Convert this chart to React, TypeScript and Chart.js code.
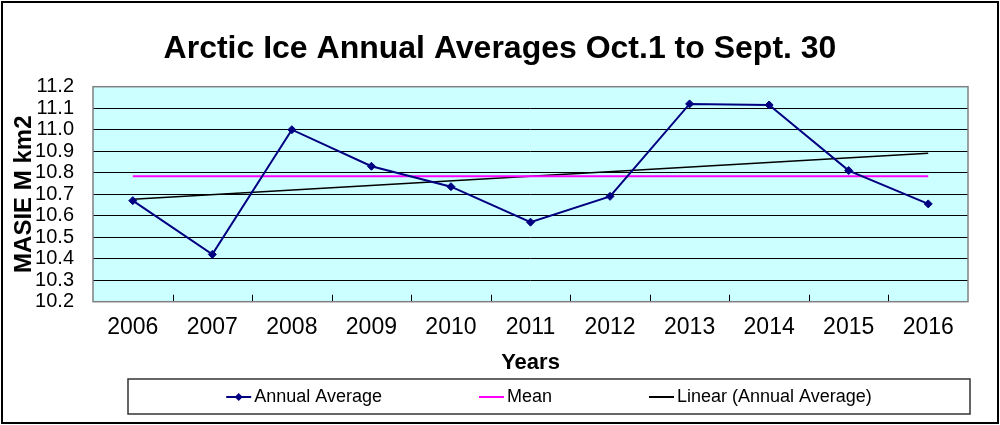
import React, { useEffect, useRef } from "react";
import { Chart, registerables } from "chart.js";

Chart.register(...registerables);

const YEARS = ["2006", "2007", "2008", "2009", "2010", "2011", "2012", "2013", "2014", "2015", "2016"];
const ANNUAL_AVERAGE = [10.67, 10.42, 11.0, 10.83, 10.735, 10.57, 10.69, 11.12, 11.115, 10.81, 10.655];
const MEAN_LEVEL = 10.783;
const TREND_START_END = [10.676, 10.891];
const Y_MIN = 10.2;
const Y_MAX = 11.2;
const Y_STEP = 0.1;

const TITLE = "Arctic Ice Annual Averages Oct.1 to Sept. 30";
const Y_TITLE = "MASIE M km2";
const X_TITLE = "Years";
const LABELS = ["Annual Average", "Mean", "Linear (Annual Average)"];

const FONT = "'Liberation Sans', Arial, Helvetica, sans-serif";

const decorPlugin = {
  id: "decor",
  beforeDraw(chart: any) {
    const { ctx, chartArea: a } = chart;
    ctx.save();
    ctx.fillStyle = "#CCFFFF";
    ctx.fillRect(a.left, a.top, a.right - a.left, a.bottom - a.top);
    ctx.restore();
  },
  afterDraw(chart: any) {
    const { ctx, chartArea: a, width, height } = chart;
    const xs = chart.scales.x;
    ctx.save();
    // category boundary tick marks (inward)
    ctx.strokeStyle = "#000";
    ctx.lineWidth = 1;
    for (let i = 0; i < YEARS.length - 1; i++) {
      const x = Math.round((xs.getPixelForValue(i) + xs.getPixelForValue(i + 1)) / 2) + 0.5;
      ctx.beginPath();
      ctx.moveTo(x, a.bottom);
      ctx.lineTo(x, a.bottom - 7);
      ctx.stroke();
    }
    // plot frame
    ctx.strokeStyle = "#808080";
    ctx.lineWidth = 1.5;
    ctx.strokeRect(a.left, a.top, a.right - a.left, a.bottom - a.top);

    // legend box
    const lx = 128, ly = 379, lw = 842, lh = 35;
    ctx.strokeStyle = "#333";
    ctx.lineWidth = 1.5;
    ctx.strokeRect(lx, ly, lw, lh);

    ctx.font = `18px ${FONT}`;
    ctx.textBaseline = "middle";
    ctx.textAlign = "left";
    const keyLen = 25, keyGap = 3, itemGap = 97;
    const ds = chart.data.datasets;
    const widths = ds.map((d: any) => keyLen + keyGap + ctx.measureText(d.label).width);
    const total = widths.reduce((s: number, w: number) => s + w, 0) + itemGap * (ds.length - 1);
    let x = lx + lw / 2 - total / 2;
    const cy = ly + lh / 2 + 0.5;
    ds.forEach((d: any, i: number) => {
      ctx.strokeStyle = d.borderColor;
      ctx.lineWidth = 2;
      ctx.beginPath();
      ctx.moveTo(x, cy);
      ctx.lineTo(x + keyLen, cy);
      ctx.stroke();
      if (d.pointRadius > 0) {
        const mx = x + keyLen / 2, r = 4;
        ctx.fillStyle = d.borderColor;
        ctx.beginPath();
        ctx.moveTo(mx, cy - r);
        ctx.lineTo(mx + r, cy);
        ctx.lineTo(mx, cy + r);
        ctx.lineTo(mx - r, cy);
        ctx.closePath();
        ctx.fill();
      }
      ctx.fillStyle = "#000";
      ctx.fillText(d.label, x + keyLen + keyGap, cy);
      x += widths[i] + itemGap;
    });

    // outer border
    ctx.strokeStyle = "#000";
    ctx.lineWidth = 2;
    ctx.strokeRect(2, 2, width - 4, height - 4);
    ctx.restore();
  },
};

export default function App() {
  const ref = useRef<HTMLCanvasElement | null>(null);

  useEffect(() => {
    if (!ref.current) return;
    const trend = YEARS.map((_, i) =>
      i === 0 ? TREND_START_END[0] : i === YEARS.length - 1 ? TREND_START_END[1] : null
    );
    const chart = new Chart(ref.current, {
      type: "line",
      data: {
        labels: YEARS,
        datasets: [
          {
            label: LABELS[0],
            data: ANNUAL_AVERAGE,
            borderColor: "#000080",
            backgroundColor: "#000080",
            borderWidth: 2,
            pointStyle: "rectRot",
            pointRadius: 4,
            pointBorderWidth: 1,
            tension: 0,
          },
          {
            label: LABELS[1],
            data: YEARS.map(() => MEAN_LEVEL),
            borderColor: "#FF00FF",
            backgroundColor: "#FF00FF",
            borderWidth: 2,
            pointRadius: 0,
          },
          {
            label: LABELS[2],
            data: trend,
            borderColor: "#000000",
            backgroundColor: "#000000",
            borderWidth: 1.5,
            pointRadius: 0,
            spanGaps: true,
          },
        ],
      },
      options: {
        animation: false,
        responsive: false,
        devicePixelRatio: 1,
        layout: { padding: { left: 0, right: 0, top: 0, bottom: 49.3 } },
        plugins: {
          legend: { display: false },
          tooltip: { enabled: false },
          title: {
            display: true,
            text: TITLE,
            color: "#000",
            font: { family: FONT, size: 32, weight: "bold" },
            padding: { top: 29.8, bottom: 18.5 },
          },
        },
        scales: {
          x: {
            type: "category",
            offset: true,
            grid: { display: false },
            border: { display: false },
            ticks: {
              color: "#000",
              font: { family: FONT, size: 23 },
              padding: 4,
              maxRotation: 0,
              autoSkip: false,
            },
            title: {
              display: true,
              text: X_TITLE,
              color: "#000",
              font: { family: FONT, size: 22, weight: "bold" },
              padding: { top: 0, bottom: 0 },
            },
            afterFit(scale: any) {
              scale.height = 74;
            },
          },
          y: {
            min: Y_MIN,
            max: Y_MAX,
            border: { display: false },
            grid: {
              drawTicks: false,
              color: (c: any) => {
                const v = c.tick ? c.tick.value : 0;
                if (Math.abs(v - Y_MIN) < 1e-6 || Math.abs(v - Y_MAX) < 1e-6) return "rgba(0,0,0,0)";
                return "#000";
              },
              lineWidth: 1,
            },
            ticks: {
              stepSize: Y_STEP,
              autoSkip: false,
              maxTicksLimit: 20,
              color: "#000",
              font: { family: FONT, size: 20, lineHeight: 0.9 },
              padding: 19,
              callback: (v: any) => Number(v).toFixed(1),
            },
            title: {
              display: true,
              text: Y_TITLE,
              color: "#000",
              font: { family: FONT, size: 24, weight: "bold" },
              padding: { top: 9.6, bottom: 0 },
            },
            afterFit(scale: any) {
              scale.width = 93;
            },
          },
          yRightSpace: {
            type: "linear",
            position: "right",
            display: true,
            grid: { display: false },
            border: { display: false },
            ticks: { display: false },
            afterFit(scale: any) {
              scale.width = 32;
            },
          },
        },
      },
      plugins: [decorPlugin],
    });
    return () => chart.destroy();
  }, []);

  return (
    <div style={{ position: "absolute", left: 0, top: 0, width: 1000, height: 425, background: "#fff" }}>
      <canvas ref={ref} width={1000} height={425} style={{ display: "block" }} />
    </div>
  );
}
